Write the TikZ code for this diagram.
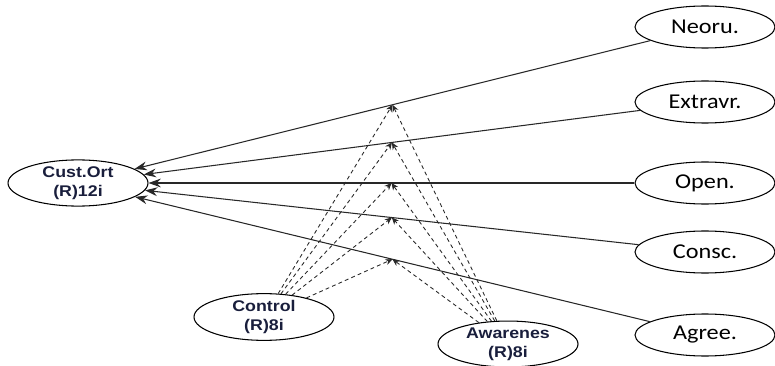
\documentclass[tikz,border=0pt]{standalone}
\usepackage{fontspec}
\newfontfamily\calfont[FakeStretch=1.15]{Carlito}
\newfontfamily\arfont[FakeStretch=1.15]{Liberation Sans}
\usepackage{tikz}
\usetikzlibrary{arrows.meta,shapes.geometric}
\definecolor{textnavy}{RGB}{25,30,60}
\definecolor{linegray}{RGB}{40,40,40}

\begin{document}
\begin{tikzpicture}[
  trait/.style={draw, ellipse, semithick, minimum width=2.8cm, minimum height=0.84cm, inner sep=0pt, font=\calfont\fontsize{12}{14}\selectfont},
  latent/.style={draw, ellipse, semithick, minimum width=2.8cm, minimum height=0.84cm, inner sep=0pt, align=center, text=textnavy, font=\arfont\bfseries\fontsize{8.8}{10.6}\selectfont},
  path/.style={-{Stealth[length=7pt,width=5pt]}, draw=linegray, line width=0.6pt},
  moder/.style={-{Stealth[length=4pt,width=3.5pt]}, draw=linegray, line width=0.5pt, dash pattern=on 2.2pt off 1.8pt}
]
\useasboundingbox (0,0) rectangle (15.5,7.3);
% outcome and predictors
\node[latent] (ort) at (1.56,3.64) {Cust.Ort\\(R)12i};
\node[trait] (neo) at (14.1,6.76) {Neoru.};
\node[trait] (ext) at (14.1,5.26) {Extravr.};
\node[trait] (ope) at (14.1,3.64) {Open.};
\node[trait] (con) at (14.1,2.26) {Consc.};
\node[trait] (agr) at (14.1,0.60) {Agree.};
% moderators
\node[latent] (ctl) at (5.28,0.96) {Control\\(R)8i};
\node[latent] (awa) at (10.16,0.42) {Awarenes\\(R)8i};
% direct paths
\draw[path] (neo) -- coordinate[pos=0.5] (mneo) (ort);
\draw[path] (ext) -- coordinate[pos=0.5] (mext) (ort);
\draw[path] (ope) -- coordinate[pos=0.5] (mope) (ort);
\draw[path] (con) -- coordinate[pos=0.5] (mcon) (ort);
\draw[path] (agr) -- coordinate[pos=0.5] (magr) (ort);
% moderating paths
\foreach \m in {mneo,mext,mope,mcon,magr} {
  \draw[moder] (ctl) -- (\m);
  \draw[moder] (awa) -- (\m);
}
\end{tikzpicture}
\end{document}
